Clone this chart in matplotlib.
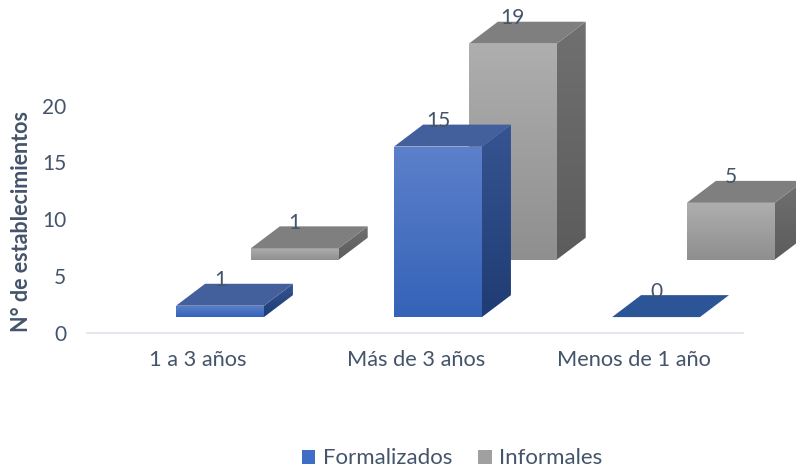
import numpy as np
import matplotlib
matplotlib.use('Agg')
import matplotlib.pyplot as plt
from matplotlib.colors import LinearSegmentedColormap
from matplotlib.patches import Patch, Polygon

categorias = ['1 a 3 años', 'Más de 3 años', 'Menos de 1 año']
formalizados = [1, 15, 0]
informales = [1, 19, 5]
y_ticks = [0, 5, 10, 15, 20]

TEXT = '#44546a'
plt.rcParams['font.family'] = ['Lato', 'DejaVu Sans']

W, H = 796, 467
fig = plt.figure(figsize=(W / 100, H / 100), dpi=100, facecolor='white')
ax = fig.add_axes([87 / W, (H - 333) / H, (W - 87) / W, 333 / H])

# one category is 218 px, one y unit 11.37 px
bar_w = 0.403
dx = 0.133
dy = 1.93
grad = np.linspace(0, 1, 64).reshape(-1, 1)


def shaded(poly_xy, top, bottom, box, z):
    cmap = LinearSegmentedColormap.from_list('c', [top, bottom])
    im = ax.imshow(grad, extent=box, cmap=cmap, aspect='auto', zorder=z,
                   interpolation='bilinear')
    poly = Polygon(poly_xy, closed=True, transform=ax.transData)
    im.set_clip_path(poly)


def bar3d(xc, base, val, style, z):
    x0 = xc - bar_w / 2
    x1 = xc + bar_w / 2
    top = base + val
    if val > 0:
        # front
        shaded([(x0, base), (x1, base), (x1, top), (x0, top)],
               style['front'][0], style['front'][1], (x0, x1, base, top), z + 0.1)
        # side
        shaded([(x1, base), (x1 + dx, base + dy), (x1 + dx, top + dy), (x1, top)],
               style['side'][0], style['side'][1], (x1, x1 + dx, base, top + dy), z)
    ax.add_patch(Polygon([(x0, top), (x1, top), (x1 + dx, top + dy), (x0 + dx, top + dy)],
                         closed=True, facecolor=style['top'] if val > 0 else style['zero'],
                         edgecolor='none', zorder=z + 0.2))
    ax.text(xc, top + 2.25, str(val), ha='center', va='center', fontsize=15,
            color=TEXT, zorder=10)


azul = {'front': ('#5c80ca', '#3563b8'), 'side': ('#365491', '#1f3c74'),
        'top': '#44609c', 'zero': '#2c5597'}
gris = {'front': ('#aeaeae', '#8f8f8f'), 'side': ('#707070', '#5c5c5c'),
        'top': '#7f7f7f', 'zero': '#7f7f7f'}

x = np.arange(len(categorias))
for i in x:
    bar3d(i + 0.343, 6.45, informales[i], gris, 2)
for i in x:
    bar3d(i, 1.4, formalizados[i], azul, 4)

ax.set_xlim(-0.61, 2.642)
ax.set_ylim(0, 29.29)
ax.set_facecolor('none')
for s in ['top', 'left', 'right']:
    ax.spines[s].set_visible(False)
ax.spines['bottom'].set_color('#dfe3ea')
ax.spines['bottom'].set_linewidth(1.2)
ax.spines['bottom'].set_bounds(-0.61, 2.4)

ax.set_yticks(y_ticks)
ax.set_xticks(x - 0.1)
ax.set_xticklabels(categorias)
ax.tick_params(axis='y', length=0, pad=15, labelsize=15, labelcolor=TEXT)
ax.tick_params(axis='x', length=0, pad=12, labelsize=15.7, labelcolor=TEXT)

fig.text(22 / W, 1 - 222 / H, 'N° de establecimientos', rotation=90, ha='center',
         va='center', fontsize=15.5, fontweight='bold', color=TEXT)

handles = [Patch(facecolor='#3f6cc4', label='Formalizados'),
           Patch(facecolor='#a0a0a0', label='Informales')]
fig.legend(handles=handles, ncols=2, loc='center', frameon=False, fontsize=16,
           labelcolor=TEXT, bbox_to_anchor=(452 / W, 1 - 458.5 / H), handlelength=0.6,
           handleheight=0.6, handletextpad=0.32, columnspacing=1.18,
           borderpad=0, borderaxespad=0)

fig.savefig('out.png', dpi=100)
